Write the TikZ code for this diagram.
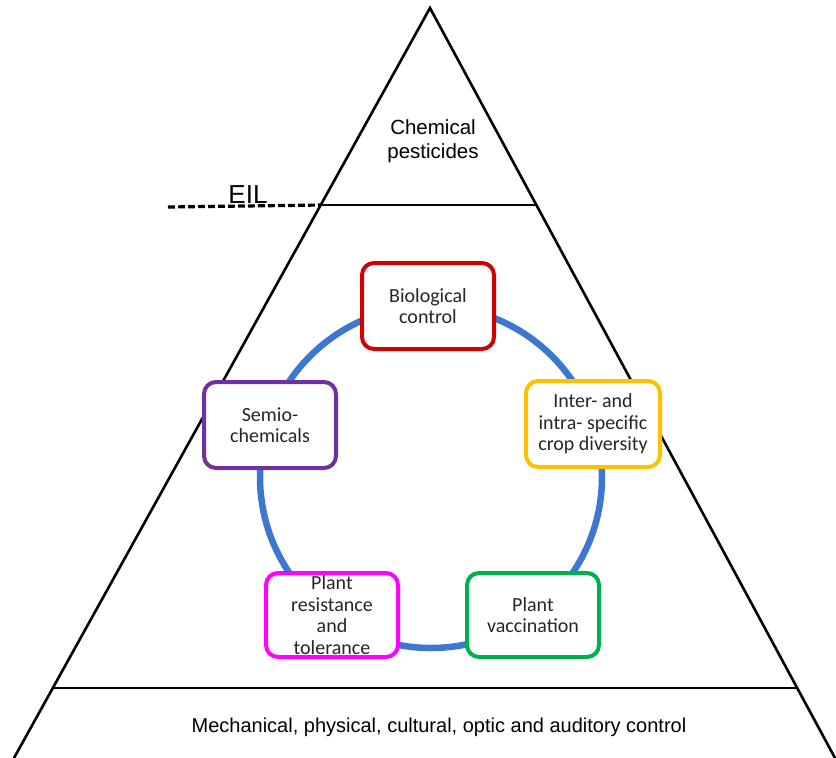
\documentclass[tikz,border=0pt]{standalone}
\usepackage{fontspec}
\setmainfont{Liberation Sans}
\newfontfamily\boxfont{Carlito}
\usetikzlibrary{positioning,calc}

\definecolor{ringblue}{HTML}{3C78D0}
\definecolor{biored}{HTML}{D00000}
\definecolor{croporange}{HTML}{FFC000}
\definecolor{semiopurple}{HTML}{7030A0}
\definecolor{resmagenta}{HTML}{FF00FF}
\definecolor{vacgreen}{HTML}{00B050}

\tikzset{
    pbox/.style={draw=#1, line width=4pt, rounded corners=12pt, fill=white,
        minimum width=132pt, minimum height=86pt, inner sep=1pt, align=center,
        text=black!85, font=\boxfont\fontsize{20}{21.5}\selectfont},
    tri/.style={line width=2.6pt, line cap=round},
    band/.style={line width=2.2pt}
}

\begin{document}
\begin{tikzpicture}[x=1pt,y=-1pt]
    \useasboundingbox (0,0) rectangle (836,758);
    %Pyramid
    \coordinate (apex) at (430,8);
    \coordinate (bl) at (14,758);
    \coordinate (br) at (835,758);
    \draw[tri] (bl) -- (apex) -- (br);
    \coordinate (eilL) at ($(apex)!0.2627!(bl)$);
    \coordinate (eilR) at ($(apex)!0.2627!(br)$);
    \coordinate (baseL) at ($(apex)!0.9067!(bl)$);
    \coordinate (baseR) at ($(apex)!0.9067!(br)$);
    \draw[band] (eilL) -- (eilR);
    \draw[band] (baseL) -- (baseR);
    %EIL
    \coordinate (eilstart) at (168,207);
    \draw[line width=3.2pt, dash pattern=on 7pt off 3pt] (eilstart) -- (eilL);
    \node[font=\fontsize{26}{28}\selectfont, inner sep=0pt] (eil) at (248,195) {EIL};
    %Tiers
    \node[align=center, font=\fontsize{20.5}{24}\selectfont] (chem) at (433,141) {Chemical\\pesticides};
    \node[font=\fontsize{20}{22}\selectfont] (mech) at (439,727) {Mechanical, physical, cultural, optic and auditory control};
    %Ring
    \node[draw=ringblue, line width=6.5pt, circle, minimum size=342pt] (ring) at (431,477) {};
    %Boxes
    \node[pbox=biored] (bio) at (428,306) {Biological\\control};
    \node[pbox=croporange, minimum width=134pt] (crop) at (593,424) {Inter- and\\intra- specific\\crop diversity};
    \node[pbox=semiopurple] (semio) at (270,425) {Semio-\\chemicals};
    \node[pbox=resmagenta, minimum height=84pt] (res) at (332,615) {Plant\\resistance\\and\\tolerance};
    \node[pbox=vacgreen, minimum height=84pt] (vac) at (533,615) {Plant\\vaccination};
\end{tikzpicture}
\end{document}
